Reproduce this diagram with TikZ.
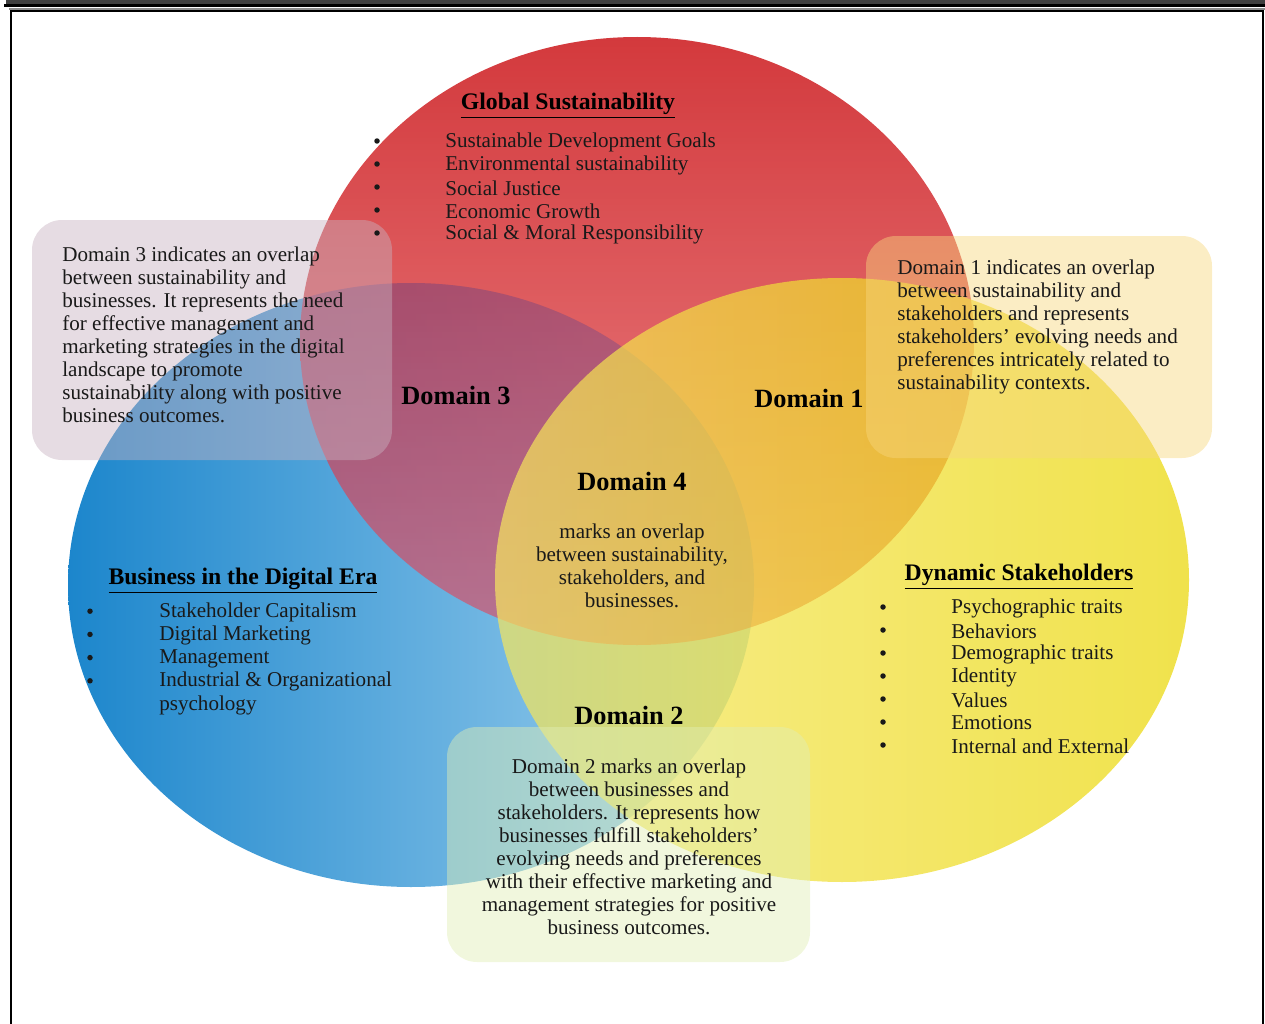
\documentclass[tikz,border=0pt]{standalone}
\usepackage{fontspec}
\setmainfont{Liberation Serif}

\definecolor{blueL}{RGB}{28,134,204}
\definecolor{blueR}{RGB}{165,212,240}
\definecolor{redT}{RGB}{200,8,12}
\definecolor{redB}{RGB}{232,108,112}
\definecolor{yelL}{RGB}{245,230,95}
\definecolor{yelR}{RGB}{234,214,0}
\definecolor{mauve}{RGB}{95,95,190}
\definecolor{boxthree}{RGB}{200,178,192}
\definecolor{boxone}{RGB}{247,214,125}
\definecolor{boxtwo}{RGB}{224,238,180}

\tikzset{
  bodytext/.style={font=\fontsize{12}{13.1}\selectfont, inner sep=0pt, text=black!90},
  dot/.style={circle, fill=black!90, inner sep=0pt, minimum size=0.11cm},
  domlabel/.style={font=\fontsize{15}{18}\selectfont\bfseries, inner sep=0pt},
  heading/.style={font=\fontsize{13.5}{16}\selectfont\bfseries, inner sep=0pt},
  notebox/.style={rounded corners=0.6cm, fill opacity=0.45},
}

\begin{document}
\begin{tikzpicture}[x=0.02cm,y=-0.02cm]
\useasboundingbox (0,0) rectangle (1265,1024);
% page frame
\fill[black!75] (6,0) rectangle (1265,4);
\draw[line width=1.3pt] (4,5.5) -- (1265,5.5);
\draw[black!45, line width=0.6pt] (9,9) -- (1265,9);
\draw[line width=1.3pt] (11,1024) |- (1263,11) -- (1263,1024);
% the three circles
\shade[left color=blueL, right color=blueR] (411,585) ellipse [x radius=343, y radius=302];
\shade[top color=redT, bottom color=redB, fill opacity=0.8] (637,341) ellipse [x radius=337, y radius=304];
\begin{scope}
  \clip (411,585) ellipse [x radius=343, y radius=302];
  \fill[mauve, fill opacity=0.22] (637,341) ellipse [x radius=337, y radius=304];
\end{scope}
\shade[left color=yelL, right color=yelR, fill opacity=0.7] (842,580) ellipse [x radius=347, y radius=302];
% note boxes
\fill[boxthree, notebox] (32,220) rectangle (392,460);
\fill[boxone, notebox] (866,236) rectangle (1212,458);
\fill[boxtwo, notebox] (447,727) rectangle (810,962);
% Global Sustainability
\node[heading] (gs) at (568,106) {\underline{Global Sustainability}};
\foreach \t [count=\i] in {Sustainable Development Goals, Environmental sustainability, Social Justice, Economic Growth, Social \& Moral Responsibility} {
  \node[dot] (gsb\i) at (377,118+23*\i) {};
  \node[bodytext, anchor=west] (gs\i) at (445,119+23*\i) {\t};
}
% Business in the Digital Era
\node[heading] (bde) at (243,581) {\underline{Business in the Digital Era}};
\foreach \i in {1,...,4} \node[dot] (bdeb\i) at (90,588+23.2*\i) {};
\foreach \t [count=\i] in {Stakeholder Capitalism, Digital Marketing, Management, Industrial \& Organizational, psychology}
  \node[bodytext, anchor=west] (bde\i) at (159,589+23.2*\i) {\t};
% Dynamic Stakeholders
\node[heading] (ds) at (1019,577) {\underline{Dynamic Stakeholders}};
\foreach \t [count=\i] in {Psychographic traits, Behaviors, Demographic traits, Identity, Values, Emotions, Internal and External} {
  \node[dot] (dsb\i) at (883,584+23*\i) {};
  \node[bodytext, anchor=west] (ds\i) at (951,585+23*\i) {\t};
}
% domains
\node[domlabel] (dom3) at (456,395) {Domain 3};
\node[domlabel] (dom1) at (809,398) {Domain 1};
\node[domlabel] (dom4) at (632,481) {Domain 4};
\node[domlabel] (dom2) at (629,715) {Domain 2};
\node[bodytext, align=center] (dom4txt) at (632,566) {marks an overlap\\between sustainability,\\stakeholders, and\\businesses.};
\node[bodytext, align=left, anchor=west] (dom3txt) at (62,335) {Domain 3 indicates an overlap\\between sustainability and\\businesses. It represents the need\\for effective management and\\marketing strategies in the digital\\landscape to promote\\sustainability along with positive\\business outcomes.};
\node[bodytext, align=left, anchor=west] (dom1txt) at (897,327) {Domain 1 indicates an overlap\\between sustainability and\\stakeholders and represents\\stakeholders’ evolving needs and\\preferences intricately related to\\sustainability contexts.};
\node[bodytext, align=center] (dom2txt) at (629,847) {Domain 2 marks an overlap\\between businesses and\\stakeholders. It represents how\\businesses fulfill stakeholders’\\evolving needs and preferences\\with their effective marketing and\\management strategies for positive\\business outcomes.};
\end{tikzpicture}
\end{document}
